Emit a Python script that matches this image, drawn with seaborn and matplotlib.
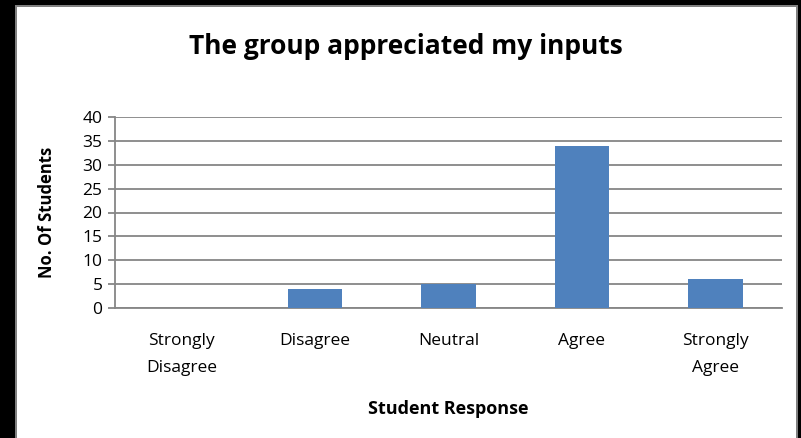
import matplotlib
matplotlib.use("Agg")
import matplotlib.pyplot as plt
import seaborn as sns
import pandas as pd
from matplotlib.patches import Rectangle

categories = ["Strongly\nDisagree", "Disagree", "Neutral", "Agree", "Strongly\nAgree"]
counts = [0, 4, 5, 34, 6]
yticks = [0, 5, 10, 15, 20, 25, 30, 35, 40]

sns.set_theme(style="white")
plt.rcParams['font.family'] = ['Open Sans', 'DejaVu Sans']
plt.rcParams['text.color'] = 'black'

df = pd.DataFrame({"Response": categories, "Count": counts})

fig = plt.figure(figsize=(8.01, 4.38), dpi=100)
ax = fig.add_axes([115/801, 1-308/438, (782-115)/801, (308-117)/438])

sns.barplot(data=df, x="Response", y="Count", color="#4F81BD", width=0.41,
            saturation=1, linewidth=0, ax=ax, zorder=3)

ax.set_ylim(0, 40)
ax.set_yticks(yticks)
ax.set_xlim(-0.5, 4.5)
ax.yaxis.grid(True, color="#868686", linewidth=1.3, zorder=0)
ax.set_axisbelow(True)
for s in ["top", "right"]:
    ax.spines[s].set_visible(False)
for s in ["left", "bottom"]:
    ax.spines[s].set_color("#868686")
    ax.spines[s].set_linewidth(1.3)
ax.tick_params(axis="y", which="both", left=True, length=5, width=1.3,
               color="#868686", labelsize=12.5, pad=4, labelcolor="black")
ax.tick_params(axis="x", bottom=False, labelsize=12.5, pad=12, labelcolor="black")
for lbl in ax.get_xticklabels():
    lbl.set_linespacing(1.95)

ax.set_ylabel("No. Of Students", fontsize=12, fontweight="bold", labelpad=19,
              color="black")
ax.set_xlabel("Student Response", fontsize=13, fontweight="bold", labelpad=17,
              color="black")

fig.text(0.507, 1-47/438, "The group appreciated my inputs", ha="center", va="center",
         fontsize=19, fontweight="bold", color="black")

# black frame and gray border
fig.patches.append(Rectangle((0, 0), 15/801, 1, transform=fig.transFigure,
                             facecolor="black", edgecolor="none", zorder=10))
fig.patches.append(Rectangle((0, 1-5/438), 1, 5/438, transform=fig.transFigure,
                             facecolor="black", edgecolor="none", zorder=10))
fig.patches.append(Rectangle((1-3/801, 0), 3/801, 1, transform=fig.transFigure,
                             facecolor="black", edgecolor="none", zorder=10))
fig.patches.append(Rectangle((15/801, 0), 2/801, 1-5/438, transform=fig.transFigure,
                             facecolor="#808080", edgecolor="none", zorder=10))
fig.patches.append(Rectangle((15/801, 1-7/438), 1-18/801, 2/438, transform=fig.transFigure,
                             facecolor="#808080", edgecolor="none", zorder=10))
fig.patches.append(Rectangle((1-5/801, 0), 2/801, 1-5/438, transform=fig.transFigure,
                             facecolor="#808080", edgecolor="none", zorder=10))

fig.savefig("out.png", dpi=100)
